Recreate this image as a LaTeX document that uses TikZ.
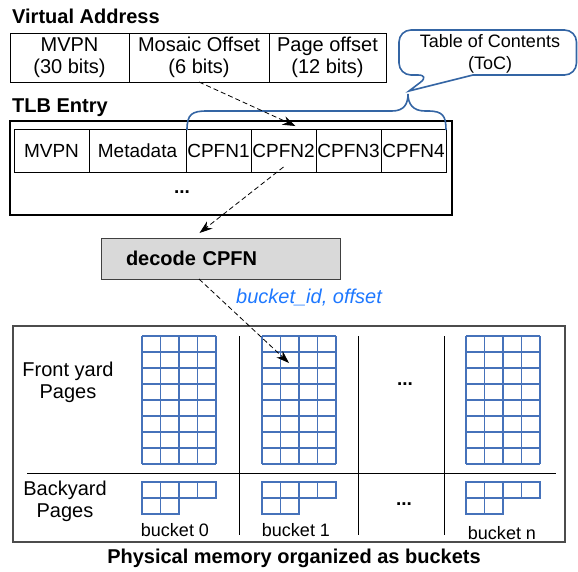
\documentclass[tikz,border=0pt]{standalone}
\usepackage{fontspec}
\setmainfont{Liberation Sans}
\usetikzlibrary{arrows.meta,positioning}
\definecolor{tocblue}{RGB}{52,101,164}
\definecolor{gridblue}{RGB}{70,114,186}
\definecolor{lblblue}{RGB}{30,120,255}
\definecolor{boxgray}{RGB}{217,217,217}
\newcommand{\fsz}[2]{\fontsize{#1}{#2}\selectfont}

\begin{document}
\begin{tikzpicture}[x=1pt,y=-1pt,>={Stealth[length=13pt,width=9pt]},
  cell/.style={draw,rectangle,outer sep=0pt,inner sep=0pt,align=center},
  va/.style={cell,line width=0.9pt,minimum height=49pt,font=\fsz{20}{21.5}},
  tlb/.style={cell,line width=0.9pt,minimum height=43pt,font=\fsz{19}{21}},
  title/.style={anchor=west,inner sep=0pt,font=\bfseries\fsz{20}{22}},
  lbl/.style={inner sep=0pt,align=center,font=\fsz{20}{22}},
  ptr/.style={->,dash pattern=on 5pt off 3pt,line width=0.8pt},
  pages/.style={gridblue,line width=1.3pt}]
\useasboundingbox (0,0) rectangle (578,571);

\node[title](vah) at (12,16) {Virtual Address};
\node[va,minimum width=119pt](va1) at (69.5,57.5) {MVPN\\(30 bits)};
\node[va,minimum width=140pt,right=0pt of va1](va2) {Mosaic Offset\\(6 bits)};
\node[va,minimum width=117pt,right=0pt of va2](va3) {Page offset\\(12 bits)};

\node[lbl,font=\fsz{18}{22}](toc) at (490,54) {Table of Contents\\(ToC)};
\draw[tocblue,line width=1.6pt] (430,75) -- (409,91) -- (473,75) [rounded corners=12pt] -- (576.5,75) -- (576.5,30) -- (399,30) -- (399,75) -- cycle;

\node[title](tlbh) at (12,108) {TLB Entry};
\node[cell,line width=1.3pt,minimum width=442pt,minimum height=94pt](tlbe) at (231,168) {};
\node[tlb,minimum width=75pt](t1) at (51.5,150.5) {MVPN};
\node[tlb,minimum width=97pt,right=0pt of t1](t2) {Metadata};
\node[tlb,minimum width=65pt,right=0pt of t2](t3) {CPFN1};
\node[tlb,minimum width=65pt,right=0pt of t3](t4) {CPFN2};
\node[tlb,minimum width=65pt,right=0pt of t4](t5) {CPFN3};
\node[tlb,minimum width=65pt,right=0pt of t5](t6) {CPFN4};
\node[inner sep=0pt,font=\bfseries\fsz{19}{21}](tdots) at (182,192) {...};

\draw[tocblue,line width=1.6pt] (187,130) .. controls (187,114) and (192,111) .. (207,111) -- (392,111) .. controls (404,111) and (408,104) .. (408,94) .. controls (408,104) and (413,111) .. (425,111) -- (428,111) .. controls (443,111) and (446,116) .. (446,130);

\node[cell,draw=black!75,fill=boxgray,line width=1pt,minimum width=239pt,minimum height=41pt,text width=189pt,inner xsep=25pt,align=left,font=\bfseries\fsz{20}{22}](dec) at (220.5,258.5) {decode CPFN};
\node[lbl,anchor=west,text=lblblue,font=\itshape\fsz{20}{22}](bid) at (236,298) {bucket\_id, offset};

\node[cell,draw=black!70,line width=1.3pt,minimum width=552pt,minimum height=216pt](mem) at (289,434) {};
\draw[line width=0.9pt] (27,473) -- (556,473);
\foreach \x in {239,358,444}
  \draw[line width=0.9pt] (\x,336) -- (\x,535);

\foreach \x in {142,262,466} {
  \foreach \i in {0,...,4}
    \draw[pages] (\x+\i*18.5,336) -- ++(0,128);
  \foreach \j in {0,...,8}
    \draw[pages] (\x,336+\j*16) -- ++(74,0);
  \draw[pages] (\x,482) rectangle ++(74,16);
  \foreach \i in {1,2,3}
    \draw[pages] (\x+\i*18.5,482) -- ++(0,16);
  \draw[pages] (\x,498) rectangle ++(37,16);
  \draw[pages] (\x+18.5,498) -- ++(0,16);
}

\node[lbl](front) at (68,382) {Front yard\\Pages};
\node[lbl](back) at (65,501) {Backyard\\Pages};
\node[inner sep=0pt,font=\bfseries\fsz{19}{21}](fdots) at (405,384) {...};
\node[inner sep=0pt,font=\bfseries\fsz{19}{21}](bdots) at (404,504) {...};
\node[lbl,font=\fsz{18}{20}](b0) at (175,530) {bucket 0};
\node[lbl,font=\fsz{18}{20}](b1) at (296,530) {bucket 1};
\node[lbl,font=\fsz{18}{20}](bn) at (502,533) {bucket n};
\node[inner sep=0pt,font=\bfseries\fsz{20}{22}](phys) at (294,558) {Physical memory organized as buckets};

\coordinate (hit) at (289,363);
\draw[ptr] (va2.south) -- ([xshift=12pt,yshift=3pt]t4.north);
\draw[ptr] ([yshift=5pt]t4.south) -- ([xshift=-21pt,yshift=5pt]dec.north);
\draw[ptr] ([xshift=-21.5pt]dec.south) -- (hit);
\end{tikzpicture}
\end{document}
